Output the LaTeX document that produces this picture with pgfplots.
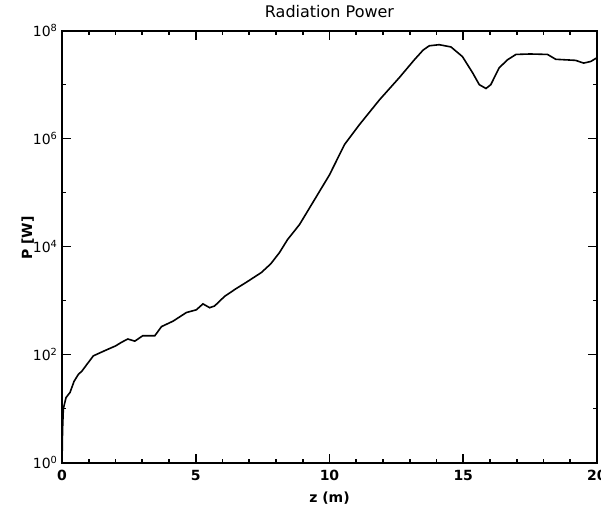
\documentclass[border=0pt]{standalone}
\usepackage{pgfplots}
\pgfplotsset{compat=1.18}
\usepackage{fontspec}
\setmainfont{DejaVu Sans}
\begin{document}
\begin{tikzpicture}
  \begin{axis}[
      scale only axis,
      width=535pt, height=432pt,
      ymode=log,
      xmin=0, xmax=20, ymin=1, ymax=1e8,
      xtick={0,5,10,15,20},
      xticklabels={0,5,10,15,20},
      minor x tick num=4,
      ytick={1,1e2,1e4,1e6,1e8},
      yticklabels={10\textsuperscript{0},10\textsuperscript{2},10\textsuperscript{4},10\textsuperscript{6},10\textsuperscript{8}},
      minor ytick={10,1e3,1e5,1e7},
      tick align=inside,
      major tick length=9pt,
      minor tick length=4pt,
      every tick/.style={black, line width=1.6pt},
      axis line style={line width=1.8pt},
      tick label style={font=\fontsize{14}{16}\selectfont},
      xticklabel style={font=\fontsize{14}{16}\selectfont\bfseries, yshift=-4pt},
      yticklabel style={xshift=-1pt},
      title={Radiation Power},
      title style={font=\fontsize{16}{18}\selectfont, at={(axis description cs:0.5,1.03)}, anchor=center},
      xlabel={z (m)},
      ylabel={P [W]},
      label style={font=\fontsize{14}{16}\selectfont\bfseries},
      xlabel style={at={(axis description cs:0.5,-0.081)}, anchor=center},
      ylabel style={at={(axis description cs:-0.064,0.52)}, anchor=center},
      clip=false,
    ]
    \addplot[black, line width=1.6pt, sharp plot] coordinates {
      (0,1) (0.02,4) (0.05,10) (0.15,16) (0.3,20) (0.45,32) (0.61,43)
      (0.75,50) (0.92,65) (1.17,95) (1.4,107) (1.67,123) (2.0,145)
      (2.23,170) (2.46,195) (2.72,178) (3.02,224) (3.47,224) (3.72,331)
      (4.15,417) (4.65,603) (5.02,676) (5.27,871) (5.52,741) (5.7,794)
      (6.08,1202) (6.5,1660) (6.89,2188) (7.45,3311) (7.8,4786)
      (8.13,7762) (8.43,13490) (8.88,25700) (9.44,74130) (10.0,213800)
      (10.56,776200) (11.12,1.82e6) (11.87,5.25e6) (12.61,1.35e7)
      (13.17,2.88e7) (13.5,4.37e7) (13.73,5.25e7) (14.1,5.5e7)
      (14.54,5.0e7) (14.97,3.31e7) (15.35,1.66e7) (15.6,1.0e7)
      (15.85,8.5e6) (16.03,1.0e7) (16.34,2.04e7) (16.65,2.88e7)
      (16.97,3.63e7) (17.5,3.7e7) (18.15,3.63e7) (18.46,2.95e7)
      (19.2,2.82e7) (19.5,2.51e7) (19.77,2.69e7) (20,3.16e7)
    };
    \coordinate (bl) at (rel axis cs:-0.1159,-0.1042);
    \coordinate (tr) at (rel axis cs:1.0075,1.071);
  \end{axis}
  \pgfresetboundingbox
  \path[use as bounding box] (bl) rectangle (tr);
\end{tikzpicture}
\end{document}
